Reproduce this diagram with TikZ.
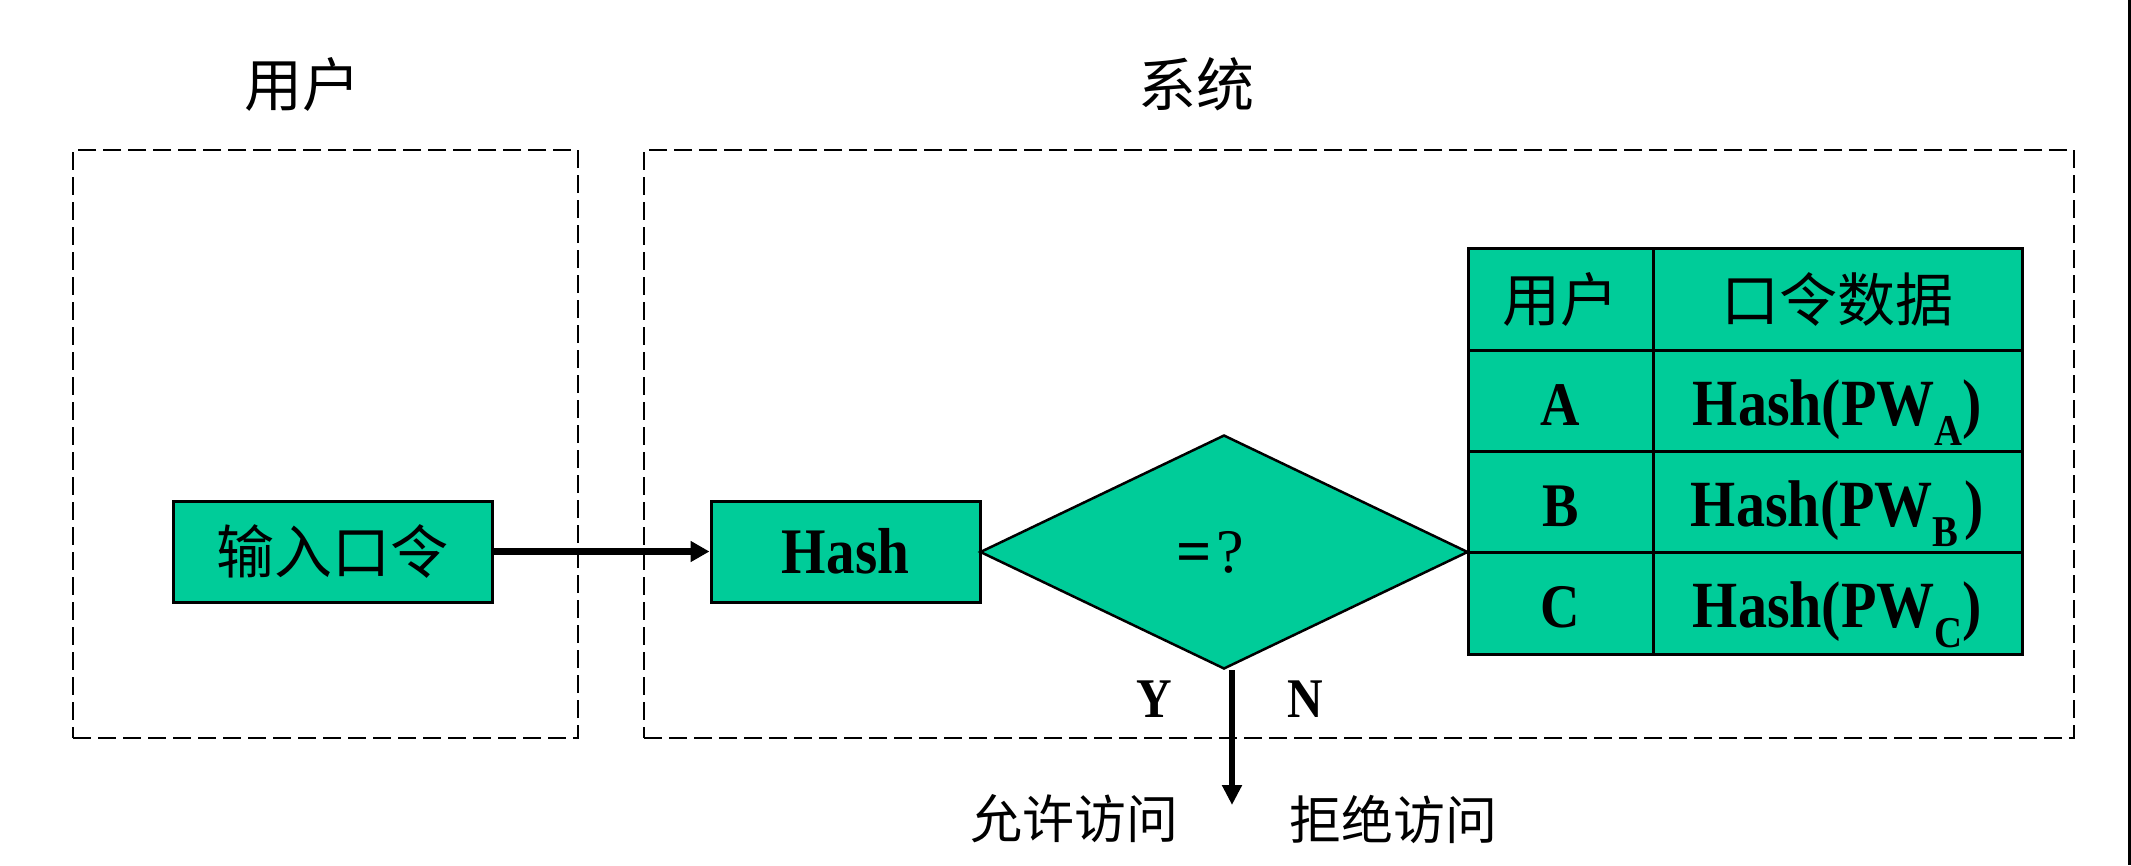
\documentclass[tikz,border=0pt]{standalone}
\usepackage{fontspec}
\setmainfont{Liberation Serif}[FakeStretch=0.88]
\newfontfamily\plainserif{Liberation Serif}
\newfontfamily\cjkfont{Noto Sans CJK SC}
\usetikzlibrary{shapes.geometric,arrows.meta}
\definecolor{boxgreen}{RGB}{0,204,153}
\newcommand\cjkbig{\cjkfont\fontsize{58}{62}\selectfont}
\newcommand\cjkmid{\cjkfont\fontsize{52}{56}\selectfont}
\newcommand\latbig{\fontsize{62}{66}\selectfont\bfseries}
\newcommand\lathash{\fontsize{66}{70}\selectfont\bfseries}
\newcommand\subsc[1]{\smash{\raisebox{-0.3em}{\fontsize{44}{48}\selectfont #1}}}
\begin{document}
\begin{tikzpicture}[x=1pt,y=-1pt,
  frame/.style={draw, dash pattern=on 18pt off 7pt, line width=2.3pt, fill=none},
  greenbox/.style={draw, fill=boxgreen, line width=3pt, inner sep=0pt},
  cell/.style={draw, fill=boxgreen, line width=3pt, inner sep=0pt, minimum height=101.25pt},
  latcell/.style={cell, text height=49pt, text depth=0pt},
  lbl/.style={inner sep=0pt}
]
\useasboundingbox (0,0) rectangle (2131,865);
% frames
\node[frame, minimum width=505pt, minimum height=588pt] (userframe) at (325.5,444) {};
\node[frame, minimum width=1430pt, minimum height=588pt] (sysframe) at (1359,444) {};
\node[lbl] (usertitle) at (302,84) {\cjkbig 用户};
\node[lbl] (systitle) at (1196,84) {\cjkbig 系统};
% boxes
\node[greenbox, minimum width=319pt, minimum height=101pt] (input) at (332.5,551.5) {\cjkbig 输入口令};
\node[greenbox, minimum width=269pt, minimum height=101pt] (hash) at (845.5,551.5) {\fontsize{65}{70}\selectfont\bfseries Hash};
\node[diamond, draw, fill=boxgreen, line width=2.5pt, inner sep=0pt,
      minimum width=488pt, minimum height=234pt] (cmp) at (1224,552) {};
\node[lbl] (cmptext) at (1210,552) {\plainserif\fontsize{62}{66}\selectfont \textbf{=}\kern5pt?};
% table
\node[cell, minimum width=185pt] (h1) at (1560.5,299.6) {\cjkbig 用户};
\node[cell, minimum width=369pt] (h2) at (1837.5,299.6) {\cjkbig 口令数据};
\node[latcell, minimum width=185pt] (a1) at (1560.5,400.9) {\latbig A};
\node[latcell, minimum width=369pt] (a2) at (1837.5,400.9) {\lathash Hash(PW\subsc{A})};
\node[latcell, minimum width=185pt] (b1) at (1560.5,502.1) {\latbig B};
\node[latcell, minimum width=369pt] (b2) at (1837.5,502.1) {\lathash Hash(PW\subsc{B}\kern6pt)};
\node[latcell, minimum width=185pt] (c1) at (1560.5,603.4) {\latbig C};
\node[latcell, minimum width=369pt] (c2) at (1837.5,603.4) {\lathash Hash(PW\subsc{C})};
% labels
\node[lbl] (ylab) at (1154,699) {\fontsize{56}{60}\selectfont\bfseries Y};
\node[lbl] (nlab) at (1305,699) {\fontsize{56}{60}\selectfont\bfseries N};
\node[lbl] (allow) at (1074,819) {\cjkmid 允许访问};
\node[lbl] (deny) at (1393,819) {\cjkmid 拒绝访问};
% connectors
\draw[line width=7pt, -{Triangle[length=19pt,width=20pt]}] (input.east) -- (hash.west);
\coordinate (dend) at (1232,805);
\draw[line width=6.5pt, -{Triangle[length=20pt,width=19pt]}] ([xshift=8pt]cmp.south) -- (dend);
% right edge rule
\draw[line width=3pt] (2129,0) -- (2129,865);
\end{tikzpicture}
\end{document}
